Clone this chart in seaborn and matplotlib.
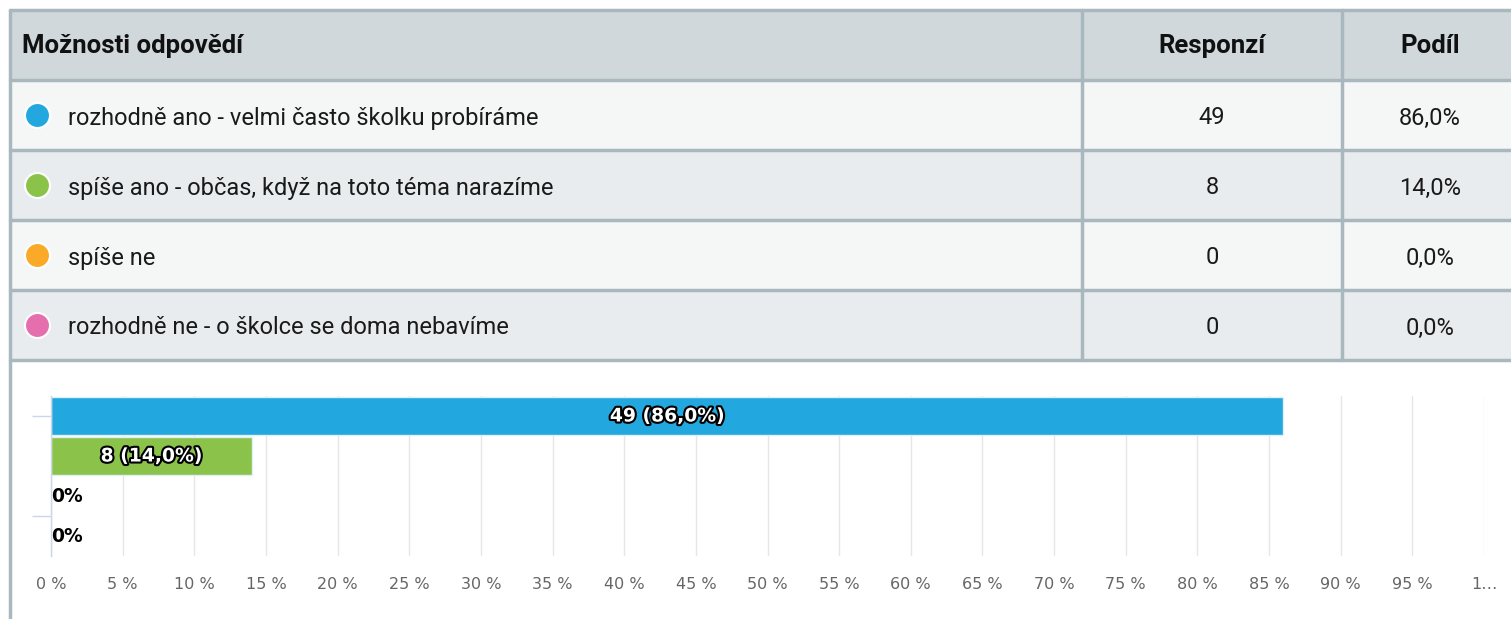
import matplotlib
matplotlib.use("Agg")
import matplotlib.pyplot as plt
import matplotlib.patheffects as pe
from matplotlib.patches import Rectangle
import pandas as pd
import seaborn as sns

# Data
answers = [
    "rozhodně ano - velmi často školku probíráme",
    "spíše ano - občas, když na toto téma narazíme",
    "spíše ne",
    "rozhodně ne - o školce se doma nebavíme",
]
responses = [49, 8, 0, 0]
shares = [86.0, 14.0, 0.0, 0.0]
colors = ["#22a7de", "#8bc34a", "#fbaa27", "#e56fac"]
headers = ["Možnosti odpovědí", "Responzí", "Podíl"]
xticks = list(range(0, 101, 5))
xticklabels = [f"{t} %" for t in xticks[:-1]] + ["1…"]

df = pd.DataFrame({"answer": answers, "share": shares})

W, H = 1511, 619
sns.set_style("white")
fig = plt.figure(figsize=(W / 100, H / 100), dpi=100)

table_font = ["Liberation Sans Narrow", "Roboto", "DejaVu Sans"]
border = "#a9b8bf"


def fx(x):
    return x / W


def fy(y):
    return 1 - y / H


# table rows
row_tops = [10, 80, 150, 220, 290, 360]
row_bg = ["#d0d8dc", "#f5f6f6", "#e9ecee", "#f5f6f6", "#e9ecee"]
for i in range(5):
    y0, y1 = row_tops[i], row_tops[i + 1]
    fig.patches.append(Rectangle((fx(10), fy(y1)), fx(W - 10), (y1 - y0) / H,
                                 transform=fig.transFigure, facecolor=row_bg[i],
                                 edgecolor="none", zorder=-1))
# horizontal borders
for y in row_tops:
    fig.add_artist(plt.Line2D([fx(10), 1], [fy(y), fy(y)], color=border, lw=2.5,
                              transform=fig.transFigure))
# left border
fig.add_artist(plt.Line2D([fx(10), fx(10)], [fy(10), 0], color=border, lw=2.5,
                          transform=fig.transFigure))
# column dividers
for x in [1082, 1342]:
    fig.add_artist(plt.Line2D([fx(x), fx(x)], [fy(10), fy(360)], color=border, lw=2.5,
                              transform=fig.transFigure))

# header texts
fig.text(fx(22), fy(46), headers[0], family=table_font, fontweight="bold",
         fontsize=18.5, va="center", ha="left", color="#111111")
fig.text(fx(1212), fy(46), headers[1], family=table_font, fontweight="bold",
         fontsize=18.5, va="center", ha="center", color="#111111")
fig.text(fx(1430), fy(46), headers[2], family=table_font, fontweight="bold",
         fontsize=18.5, va="center", ha="center", color="#111111")

for i, (lab, n, s, c) in enumerate(zip(answers, responses, shares, colors)):
    yc = (row_tops[i + 1] + row_tops[i + 2]) / 2 + 3
    fig.add_artist(plt.Line2D([fx(37)], [fy(yc - 3)], marker="o", markersize=18,
                              markerfacecolor=c, markeredgecolor="white",
                              markeredgewidth=1.5, transform=fig.transFigure))
    fig.text(fx(68), fy(yc), lab, family=table_font, fontsize=17,
             va="center", ha="left", color="#1a1a1a")
    fig.text(fx(1212), fy(yc), str(n), family=table_font, fontsize=17,
             va="center", ha="center", color="#1a1a1a")
    fig.text(fx(1430), fy(yc), f"{s:.1f}%".replace(".", ","), family=table_font,
             fontsize=17, va="center", ha="center", color="#1a1a1a")

# bar chart
ax = fig.add_axes([fx(51), fy(556), fx(1484 - 51), (556 - 396) / H])
sns.barplot(data=df, x="share", y="answer", hue="answer", palette=colors,
            orient="h", width=0.95, saturation=1, edgecolor="#dff0f8", linewidth=1,
            legend=False, ax=ax)
ax.set_xlim(0, 100)
ax.set_ylim(3.5, -0.5)
ax.set_xticks(xticks)
ax.set_xticklabels(xticklabels, fontsize=11.5, color="#666666")
ax.tick_params(axis="x", length=0, pad=15)
ax.set_yticks([0, 2.5])
ax.set_yticklabels([])
ax.tick_params(axis="y", length=14, color="#ccd6eb", width=1, left=True)
ax.set_xlabel("")
ax.set_ylabel("")
ax.grid(axis="x", color="#e6e6e6", lw=1)
ax.set_axisbelow(True)
for side in ["top", "right", "bottom"]:
    ax.spines[side].set_visible(False)
ax.spines["left"].set_color("#ccd6eb")
ax.spines["left"].set_linewidth(1)

for i, (n, s) in enumerate(zip(responses, shares)):
    if n > 0:
        ax.text(s / 2, i, f"{n} ({s:.1f}%)".replace(".", ","), ha="center",
                va="center", fontsize=13.5, fontweight="bold", color="white",
                path_effects=[pe.withStroke(linewidth=3, foreground="black")])
    else:
        ax.text(0, i, "0%", ha="left", va="center", fontsize=13.5,
                fontweight="bold", color="black")

fig.savefig("out.png", dpi=100)
